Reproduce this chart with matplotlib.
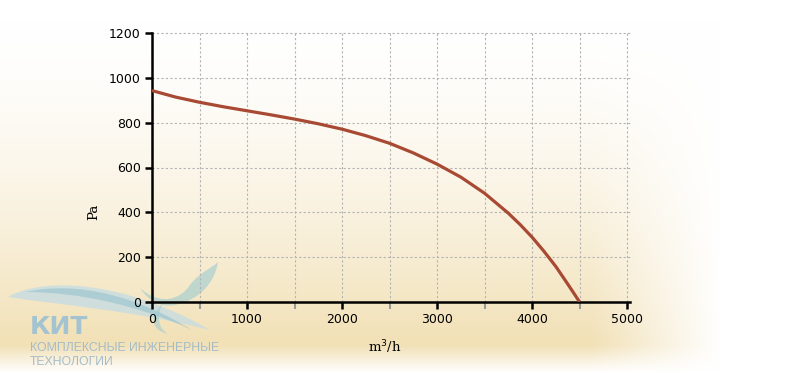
import numpy as np
import matplotlib.pyplot as plt
from matplotlib.path import Path
from matplotlib.patches import PathPatch
from matplotlib.ticker import MultipleLocator

# расход (m3/h) и давление (Pa)
flow = [0, 250, 500, 750, 1000, 1250, 1500, 1750, 2000, 2250, 2500,
        2750, 3000, 3250, 3500, 3750, 3875, 4000, 4125, 4250, 4375, 4500]
pressure = [943, 914, 891, 871, 853, 835, 816, 795, 771, 742, 708,
            665, 615, 557, 485, 396, 345, 289, 226, 158, 80, 0]

x_ticks = [0, 1000, 2000, 3000, 4000, 5000]
y_ticks = [0, 200, 400, 600, 800, 1000, 1200]

W, H = 800, 375
fig = plt.figure(figsize=(8, 3.75), dpi=100)

# фон - тёплый градиент
bg = fig.add_axes([0, 0, 1, 1], zorder=-10)
yy, xx = np.mgrid[0:H, 0:W]
v = np.clip((yy - 20) / 320.0, 0, 1) ** 1.6
v = np.where(yy > 345, v * np.clip((372 - yy) / 27.0, 0, 1), v)
h = np.clip((720 - xx) / 130.0, 0, 1)
a = (v * h)[..., None]
beige = np.array([242, 225, 183]) / 255.0
img = 1 - a * (1 - beige)
bg.imshow(img, extent=[0, W, H, 0], aspect='auto')
bg.set_xlim(0, W)
bg.set_ylim(H, 0)
bg.axis('off')

# логотип (водяной знак)
def shape(pts, color, alpha):
    codes = [Path.MOVETO] + [Path.CURVE4] * (len(pts) - 1)
    bg.add_patch(PathPatch(Path(pts, codes), fc=color, ec='none', alpha=alpha))

shape([(8, 297), (40, 278), (120, 278), (210, 330),
       (130, 310), (60, 305), (8, 297)], '#c3dce5', 0.75)
shape([(25, 292), (80, 280), (140, 298), (192, 330),
       (140, 306), (80, 292), (25, 292)], '#8fbfcc', 0.55)
shape([(140, 288), (160, 306), (180, 300), (190, 285),
       (200, 272), (212, 268), (218, 262),
       (215, 282), (200, 300), (175, 305),
       (160, 308), (148, 300), (140, 288)], '#9ccbd2', 0.6)
shape([(163, 303), (150, 315), (150, 330), (168, 334),
       (158, 328), (156, 316), (163, 303)], '#9ccbd2', 0.55)

bg.text(30, 334, 'КИТ', fontsize=18, fontweight='bold', color='#a3c3d0',
        family='DejaVu Sans', ha='left', va='baseline')
bg.text(30, 351, 'КОМПЛЕКСНЫЕ ИНЖЕНЕРНЫЕ', fontsize=8.8, color='#a4bcc8',
        family='Liberation Sans', ha='left', va='baseline')
bg.text(30, 365, 'ТЕХНОЛОГИИ', fontsize=8.8, color='#a4bcc8',
        family='Liberation Sans', ha='left', va='baseline')

# основной график
ax = fig.add_axes([152 / W, 73 / H, 478 / W, 269 / H])
ax.patch.set_alpha(0)
ax.plot(flow, pressure, color='#a84a33', lw=2.3, zorder=3,
        solid_capstyle='butt', solid_joinstyle='round')

ax.set_xlim(0, 5030)
ax.set_ylim(0, 1200)
ax.set_xticks(x_ticks)
ax.set_yticks(y_ticks)
ax.xaxis.set_minor_locator(MultipleLocator(500))
ax.grid(True, which='both', axis='x', color='#b3b3b3', ls=(0, (2, 2)), lw=0.8)
ax.grid(True, which='major', axis='y', color='#b3b3b3', ls=(0, (2, 2)), lw=0.8)
for g in ax.get_ygridlines() + ax.get_xgridlines():
    g.set_clip_on(False)

for s in ['top', 'right']:
    ax.spines[s].set_visible(False)
for s in ['left', 'bottom']:
    ax.spines[s].set_linewidth(1.8)

ax.tick_params(which='major', length=5, width=1.8, color='black',
               labelsize=9, pad=3)
ax.tick_params(axis='x', which='minor', length=5, width=1.5, color='#999999')

ax.set_ylabel('Pa', family='DejaVu Serif', fontsize=9.5)
ax.yaxis.set_label_coords(-0.109, 0.335)
ax.set_xlabel('m$^3$/h', family='DejaVu Serif', fontsize=9.5)
ax.xaxis.set_label_coords(0.487, -0.135)

fig.savefig('out.png', dpi=100)
